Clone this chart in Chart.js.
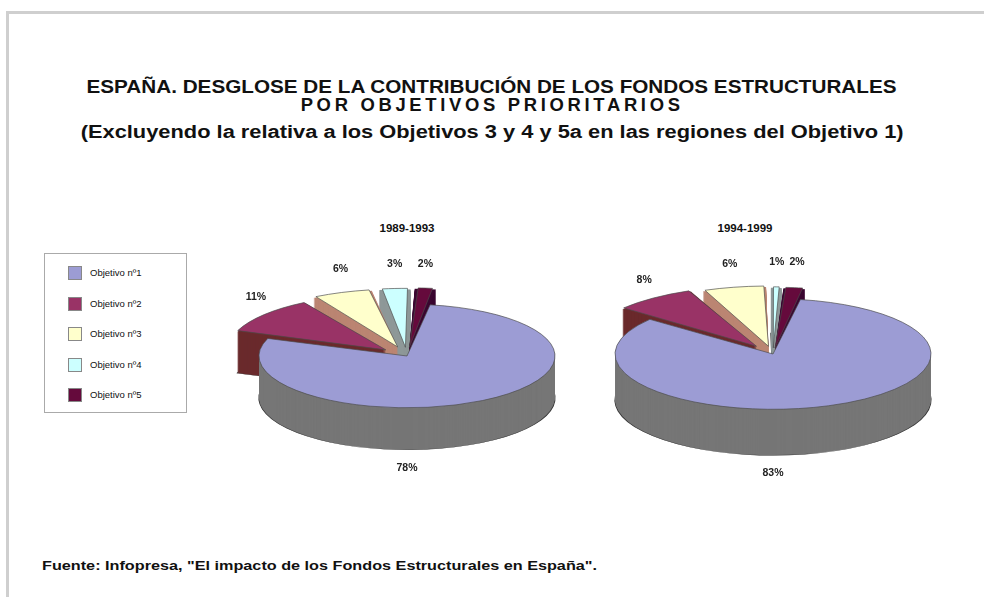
<!DOCTYPE html>
<html>
<head>
<meta charset="utf-8">
<script src="https://cdn.jsdelivr.net/npm/chart.js@4.4.0/dist/chart.umd.min.js"></script>
<style>
  body { margin: 0; background: #fff; width: 984px; height: 597px; overflow: hidden; position: relative;
         font-family: "Liberation Sans", Arial, sans-serif; color: #111; }
  .frame { position: absolute; left: 6px; top: 11px; width: 1000px; height: 620px;
           border-left: 3px solid #cfcfcf; border-top: 3px solid #cfcfcf; }
  .title { position: absolute; left: 0; width: 984px; text-align: center; font-weight: bold; white-space: nowrap; }
  .title span { display: inline-block; transform-origin: center center; }
  #t1 { top: 77px; font-size: 18px; }
  #t2 { top: 95px; font-size: 18px; letter-spacing: 3.6px; }
  #t3 { top: 122px; font-size: 18px; }
  .period { position: absolute; top: 222px; font-size: 11.5px; font-weight: bold; width: 120px; text-align: center; }
  #legend { position: absolute; left: 44px; top: 253px; width: 141px; height: 158px; border: 1px solid #aaa; }
  .item { position: absolute; left: 23px; height: 15px; font-size: 9.5px; line-height: 15px; white-space: nowrap; }
  .item span.sw { display: inline-block; width: 14px; height: 14px; vertical-align: middle; margin-right: 8px;
                  border: 1px solid #888; box-sizing: border-box; }
  #footer { position: absolute; left: 42px; top: 558px; font-size: 13px; font-weight: bold; white-space: nowrap; }
  #footer span { display: inline-block; transform-origin: left center; }
  canvas { position: absolute; }
</style>
</head>
<body>
<div class="frame"></div>
<div class="title" id="t1"><span>ESPAÑA. DESGLOSE DE LA CONTRIBUCIÓN DE LOS FONDOS ESTRUCTURALES</span></div>
<div class="title" id="t2"><span>POR OBJETIVOS PRIORITARIOS</span></div>
<div class="title" id="t3"><span>(Excluyendo la relativa a los Objetivos 3 y 4 y 5a en las regiones del Objetivo 1)</span></div>
<div class="period" id="p1" style="left:347px"></div>
<div class="period" id="p2" style="left:685px"></div>
<div id="legend"></div>
<canvas id="pie1" width="360" height="330" style="left:227px; top:191px"></canvas>
<canvas id="pie2" width="360" height="330" style="left:593px; top:189px"></canvas>
<div id="footer"><span>Fuente: Infopresa, "El impacto de los Fondos Estructurales en España".</span></div>

<script>
  // data
  const categories = ["Objetivo nº1", "Objetivo nº2", "Objetivo nº3", "Objetivo nº4", "Objetivo nº5"];
  const periods = ["1989-1993", "1994-1999"];
  const shares8993 = [78, 11, 6, 3, 2];
  const shares9499 = [83, 8, 6, 1, 2];

  const topColors = ["#9c9cd4", "#993366", "#ffffcc", "#ccffff", "#650a3c"];
  const sideColors = ["#767676", "#6a2a2c", "#bb8572", "#8e9898", "#3a0630"];

  // stretch text horizontally to the width it takes in the original
  function fitWidth(sel, target) {
    const el = document.querySelector(sel);
    const w = el.getBoundingClientRect().width;
    el.style.transform = `scaleX(${target / w})`;
  }
  fitWidth("#t1 span", 810);
  fitWidth("#t2 span", 383);
  fitWidth("#t3 span", 823);
  fitWidth("#footer span", 555);

  // ---------------- legend ----------------
  const legend = document.getElementById("legend");
  categories.forEach((c, i) => {
    const div = document.createElement("div");
    div.className = "item";
    div.style.top = (11 + i * 30.5) + "px";
    div.innerHTML = `<span class="sw" style="background:${topColors[i]}"></span>${c}`;
    legend.appendChild(div);
  });
  document.getElementById("p1").textContent = periods[0];
  document.getElementById("p2").textContent = periods[1];

  // ---------------- 3D pie plugin ----------------
  // squashes the pie into an ellipse and stacks darker copies under it for the side walls
  const pie3d = {
    id: "pie3d",
    beforeDatasetsDraw(chart, args, opts) {
      const ctx = chart.ctx;
      const meta = chart.getDatasetMeta(0);
      const cx = meta.data[0].x, cy = meta.data[0].y;
      ctx.save();
      ctx.translate(cx, cy);
      ctx.scale(1, opts.tilt);
      ctx.translate(-cx, -cy);
      for (let d = opts.depth; d > 0; d--) {
        ctx.save();
        ctx.translate(0, d / opts.tilt);
        meta.data.forEach((arc, i) => {
          const mid = (arc.startAngle + arc.endAngle) / 2;
          const off = (arc.options.offset || 0) / 4;
          const circ = arc.endAngle - arc.startAngle;
          const r = arc.outerRadius + off * (1 - Math.sin(Math.min(Math.PI, circ)));
          const x = arc.x + Math.cos(mid) * off, y = arc.y + Math.sin(mid) * off;
          ctx.beginPath();
          ctx.moveTo(x, y);
          ctx.arc(x, y, r, arc.startAngle, arc.endAngle);
          ctx.closePath();
          ctx.fillStyle = sideColors[i];
          ctx.fill();
          if (d === opts.depth) {
            ctx.lineWidth = 1.2;
            ctx.strokeStyle = "#3a3a3a";
            ctx.stroke();
          }
        });
        ctx.restore();
      }
    },
    afterDatasetsDraw(chart, args, opts) {
      const ctx = chart.ctx;
      ctx.restore();
      // percentage labels
      const meta = chart.getDatasetMeta(0);
      const values = chart.data.datasets[0].data;
      const big = values.indexOf(Math.max(...values));
      ctx.save();
      ctx.font = "bold 10.5px 'Liberation Sans', Arial, sans-serif";
      ctx.fillStyle = "#222";
      ctx.textAlign = "center";
      ctx.textBaseline = "middle";
      meta.data.forEach((arc, i) => {
        const mid = (arc.startAngle + arc.endAngle) / 2;
        let x, y;
        if (i === big) {
          x = arc.x;
          y = arc.y + arc.outerRadius * opts.tilt + opts.depth + 18;
        } else {
          x = arc.x + Math.cos(mid) * opts.labelRx;
          y = arc.y + Math.sin(mid) * opts.labelRy;
        }
        ctx.fillText(values[i] + "%", x, y);
      });
      ctx.restore();
    }
  };

  function makePie(id, values, radius, rotation, offsets, depth, labelRx) {
    return new Chart(document.getElementById(id), {
      type: "pie",
      data: {
        labels: categories,
        datasets: [{
          data: values,
          backgroundColor: topColors,
          borderColor: "#4a4a4a",
          borderWidth: 1,
          offset: offsets,
          hoverOffset: 0
        }]
      },
      options: {
        responsive: false,
        animation: false,
        rotation: rotation,
        radius: radius,
        layout: { padding: 0 },
        events: [],
        plugins: {
          legend: { display: false },
          tooltip: { enabled: false },
          pie3d: { tilt: 0.35, depth: depth, labelRx: labelRx, labelRy: 92 }
        }
      },
      plugins: [pie3d]
    });
  }

  makePie("pie1", shares8993, 148, 9, [0, 110, 110, 100, 100], 42, 196);
  makePie("pie2", shares9499, 158, 10, [0, 110, 90, 70, 70], 46, 215);
</script>
</body>
</html>
